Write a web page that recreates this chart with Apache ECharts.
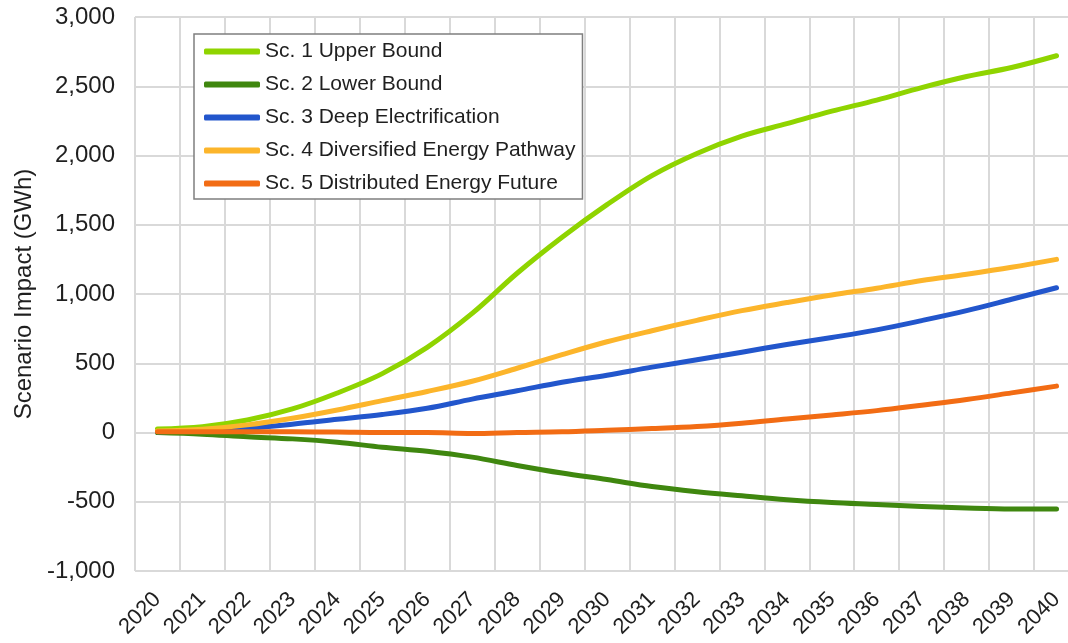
<!DOCTYPE html>
<html>
<head>
<meta charset="utf-8">
<script src="https://cdn.jsdelivr.net/npm/echarts@6/dist/echarts.min.js"></script>
<style>
  html, body { margin: 0; padding: 0; background: #ffffff; overflow: hidden; }
  /* the plot area runs on past the right edge of the window */
  #chart { width: 1080px; height: 643px; }
</style>
</head>
<body>
<div id="chart"></div>
<script>
// Years on the category axis
const years = ['2020','2021','2022','2023','2024','2025','2026','2027','2028','2029','2030',
               '2031','2032','2033','2034','2035','2036','2037','2038','2039','2040'];

// Scenario impact in GWh, one value per year
const sc1UpperBound = [25, 42, 90, 170, 285, 425, 615, 860, 1150, 1410, 1645, 1855, 2015, 2140, 2230, 2320, 2400, 2490, 2570, 2635, 2720];
const sc2LowerBound = [0, -12, -31, -46, -70, -106, -135, -178, -238, -293, -340, -390, -427, -457, -485, -505, -519, -534, -546, -553, -553];
const sc3DeepElectrification = [5, 14, 31, 60, 95, 130, 175, 241, 301, 363, 414, 472, 525, 580, 635, 686, 741, 808, 880, 962, 1045];
const sc4DiversifiedPathway = [10, 24, 55, 103, 163, 230, 296, 370, 464, 562, 655, 735, 810, 880, 938, 993, 1042, 1097, 1143, 1193, 1250];
const sc5DistributedFuture = [5, 5, 5, 5, 3, 0, 0, -7, 0, 5, 16, 28, 43, 67, 98, 127, 158, 197, 238, 286, 335];

const seriesNames = [
  'Sc. 1 Upper Bound',
  'Sc. 2 Lower Bound',
  'Sc. 3 Deep Electrification',
  'Sc. 4 Diversified Energy Pathway',
  'Sc. 5 Distributed Energy Future'
];
const seriesValues = [sc1UpperBound, sc2LowerBound, sc3DeepElectrification, sc4DiversifiedPathway, sc5DistributedFuture];
const seriesColors = ['#8fd400', '#3f870f', '#2256cc', '#fcb52b', '#f26c14'];

const FONT = '"Liberation Sans", Arial, sans-serif';
const TEXT = '#1f1f1f';
const GRID = '#d9d9d9';

const chart = echarts.init(document.getElementById('chart'), null, { renderer: 'canvas' });

chart.setOption({
  animation: false,
  backgroundColor: '#ffffff',
  textStyle: { fontFamily: FONT },
  grid: { left: 135, top: 17, width: 944, bottom: 72, containLabel: false },
  legend: {
    orient: 'vertical',
    left: 194,
    top: 34,
    icon: 'roundRect',
    itemWidth: 56,
    itemHeight: 6,
    itemGap: 12,
    padding: [7, 7, 5, 10],
    borderColor: '#7f7f7f',
    borderWidth: 1.5,
    backgroundColor: '#ffffff',
    textStyle: { fontFamily: FONT, fontSize: 21, color: TEXT },
    data: seriesNames
  },
  xAxis: {
    type: 'category',
    data: years,
    boundaryGap: true,
    axisLine: { show: true, lineStyle: { color: GRID, width: 2 } },
    axisTick: { show: false },
    splitLine: { show: true, interval: 0, lineStyle: { color: GRID, width: 2 } },
    axisLabel: {
      interval: 0,
      rotate: 45,
      margin: 25,
      fontFamily: FONT,
      fontSize: 22,
      color: TEXT
    }
  },
  yAxis: {
    type: 'value',
    min: -1000,
    max: 3000,
    interval: 500,
    name: 'Scenario Impact (GWh)',
    nameLocation: 'middle',
    nameGap: 96,
    nameTextStyle: { fontFamily: FONT, fontSize: 24, color: TEXT },
    axisLine: { show: false },
    axisTick: { show: false },
    splitLine: { show: true, lineStyle: { color: GRID, width: 2 } },
    axisLabel: {
      margin: 20,
      fontFamily: FONT,
      fontSize: 24,
      color: TEXT,
      formatter: v => v.toLocaleString('en-US')
    }
  },
  series: seriesNames.map((name, i) => ({
    name,
    type: 'line',
    data: seriesValues[i],
    smooth: 0.35,
    symbol: 'none',
    color: seriesColors[i],
    lineStyle: { color: seriesColors[i], width: 5, cap: 'round', join: 'round' }
  }))
});
</script>
</body>
</html>
